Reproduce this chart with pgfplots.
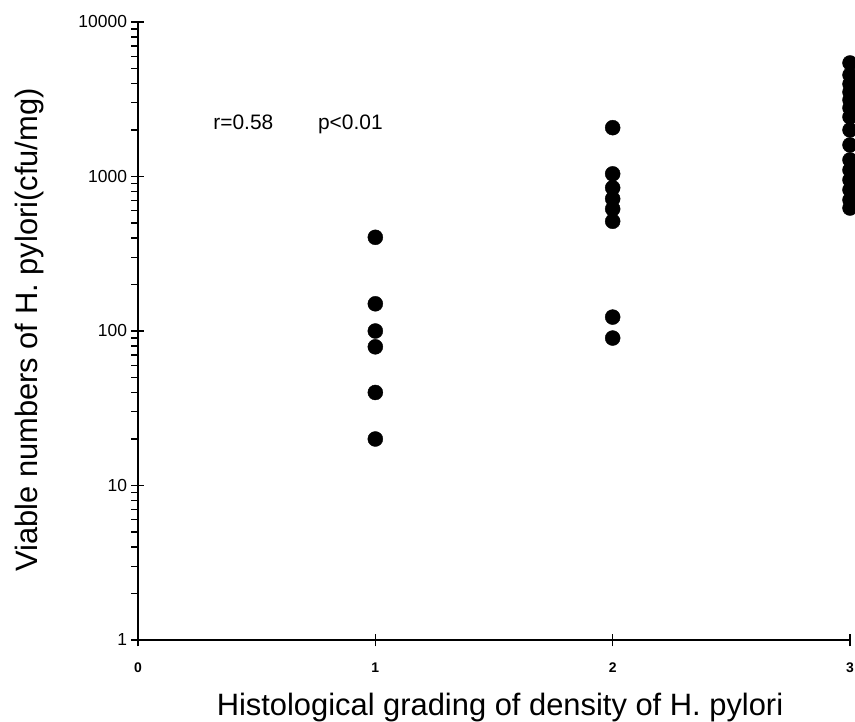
\documentclass[border=0pt]{standalone}
\usepackage{fontspec}
\setmainfont{Liberation Sans}
\usepackage{pgfplots}
\pgfplotsset{compat=1.18}
\begin{document}
\begin{tikzpicture}
\path[use as bounding box] (-138bp,-82bp) rectangle (717bp,640bp);
\begin{axis}[
  at={(0,0)}, anchor=south west,
  scale only axis, width=712bp, height=618bp,
  ymode=log, xmin=0, xmax=3, ymin=1, ymax=10000,
  axis x line=bottom, axis y line=left,
  axis line style={-, line width=1.6bp},
  xtick={0,1,2,3}, ytick={1,10,100,1000,10000},
  yticklabels={1,10,100,1000,10000},
  tick align=center, major tick length=13bp, minor tick length=7bp,
  every tick/.style={black, line width=1.3bp},
  every minor tick/.append style={xshift=-3bp},
  /pgf/number format/assume math mode=true,
  xticklabel style={font=\fontsize{14}{14}\selectfont\bfseries, yshift=-13bp},
  yticklabel style={font=\fontsize{17.5}{17.5}\selectfont, xshift=-1bp},
  clip=false,
]
\addplot[only marks, mark=*, mark size=7.5bp, black] coordinates {
  (1,404) (1,150) (1,100) (1,79) (1,40) (1,20)
  (2,2070) (2,1040) (2,845) (2,717) (2,617) (2,513) (2,123) (2,90)
  (3,5430) (3,4540) (3,3970) (3,3520) (3,3130) (3,2780) (3,2430) (3,2000)
  (3,1600) (3,1280) (3,1100) (3,950) (3,820) (3,705) (3,625)
};
\node[anchor=base west, font=\fontsize{21}{21}\selectfont] at (axis cs:0.303,2000) {r=0.58};
\node[anchor=base west, font=\fontsize{21}{21}\selectfont] at (axis cs:0.744,2000) {p<0.01};
\end{axis}
\node[anchor=base, font=\fontsize{31}{31}\selectfont] at (362bp,-75bp) {Histological grading of density of H. pylori};
\node[anchor=base, rotate=90, font=\fontsize{31}{31}\selectfont] at (-100bp,310bp) {Viable numbers of H. pylori(cfu/mg)};
\end{tikzpicture}
\end{document}
